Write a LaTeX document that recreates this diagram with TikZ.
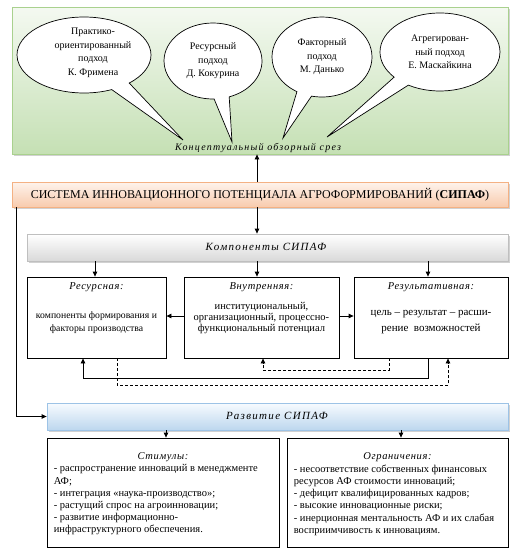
\documentclass[tikz,border=0pt]{standalone}
\usepackage{fontspec}
\setmainfont{Liberation Serif}
\usetikzlibrary{shapes.callouts,shadows,arrows.meta,calc}
\definecolor{grnF}{HTML}{C5E0B4}
\definecolor{grnT}{HTML}{F4F9F1}
\definecolor{grnD}{HTML}{A9D18E}
\definecolor{orF}{HTML}{F8CBAD}
\definecolor{orT}{HTML}{FEF3EC}
\definecolor{orD}{HTML}{F4B183}
\definecolor{gyF}{HTML}{D9D9D9}
\definecolor{gyD}{HTML}{BFBFBF}
\definecolor{blF}{HTML}{BDD7EE}
\definecolor{blT}{HTML}{F7FBFF}
\definecolor{blD}{HTML}{9DC3E6}
\newcommand{\spit}{\itshape\addfontfeatures{LetterSpace=12}}
\newcommand{\spitt}{\itshape\addfontfeatures{LetterSpace=6}}
\begin{document}
\begin{tikzpicture}[x=1pt,y=-1pt,
  shd/.style={drop shadow={fill=black!30,opacity=0.6,shadow xshift=1.5pt,shadow yshift=-2pt}},
  greenbox/.style={rectangle,draw=grnD,line width=0.8pt,top color=grnT,bottom color=grnF,shd},
  sysbox/.style={rectangle,draw=orD,line width=0.8pt,top color=orT,bottom color=orF,shd},
  graybox/.style={rectangle,draw=gyD,line width=0.8pt,top color=white,bottom color=gyF,shd},
  bluebox/.style={rectangle,draw=blD,line width=0.8pt,top color=blT,bottom color=blF,shd},
  plainbox/.style={rectangle,draw=black,line width=0.8pt,fill=white},
  bubble/.style={ellipse callout,draw=black,line width=0.7pt,fill=white,inner sep=0pt,
    callout pointer arc=18,font=\fontsize{10}{13.5}\selectfont,align=center},
  btext/.style={font=\fontsize{10}{13.5}\selectfont,align=center,inner sep=0pt},
  ttl/.style={font=\fontsize{10.5}{12}\selectfont\spitt,inner sep=0pt},
  body/.style={font=\fontsize{9.5}{12.5}\selectfont,align=center,inner sep=0pt},
  listtext/.style={font=\fontsize{10.5}{12.2}\selectfont,align=left,inner sep=0pt,anchor=north west},
  arr/.style={-{Triangle[length=5pt,width=4.5pt]},line width=0.8pt},
  darr/.style={arr,dashed,dash pattern=on 3pt off 2pt}
]
\useasboundingbox (0,0) rectangle (519,557);

% conceptual area
\node[greenbox,minimum width=496,minimum height=147] (cz) at (260,80.5) {};
\node[font=\fontsize{10}{12}\selectfont\spit,inner sep=0pt] (czt) at (258,148) {Концептуальный обзорный срез};

\node[bubble,minimum width=134,minimum height=76,callout absolute pointer={(183,140)}] (b1) at (84,55) {};
\node[btext] (b1t) at (93,53) {Практико-\\ориентированный\\подход\\К. Фримена};
\node[bubble,minimum width=98,minimum height=76,callout absolute pointer={(232,142)}] (b2) at (213,61)
  {Ресурсный\\подход\\Д. Кокурина};
\node[bubble,minimum width=100,minimum height=80,callout absolute pointer={(283,138)}] (b3) at (322,57)
  {Факторный\\подход\\М. Данько};
\node[bubble,minimum width=120,minimum height=78,callout absolute pointer={(327,137)}] (b4) at (440,52)
  {Агрегирован-\\ный подход\\Е. Маскайкина};

% system
\node[sysbox,minimum width=496,minimum height=25,font=\fontsize{12}{13}\selectfont] (sys) at (260,194.5)
  {СИСТЕМА ИННОВАЦИОННОГО ПОТЕНЦИАЛА АГРОФОРМИРОВАНИЙ (\textbf{СИПАФ})};
\draw[arr] ([xshift=-3pt]sys.north) -- ([xshift=-3pt]sys.north |- cz.south);

% components
\node[graybox,minimum width=481,minimum height=27] (comp) at (267.5,247.5) {};
\node[font=\fontsize{11}{13}\selectfont\spit,inner sep=0pt] (compt) at (266,247) {Компоненты СИПАФ};
\draw[arr] ([xshift=-3pt]sys.south) -- ([xshift=-3pt]sys.south |- comp.north);

\node[plainbox,minimum width=139,minimum height=81] (res) at (96.5,317.5) {};
\node[plainbox,minimum width=155,minimum height=81] (vn) at (261.5,317.5) {};
\node[plainbox,minimum width=154,minimum height=81] (rez) at (431,317.5) {};

\node[ttl] (rest) at ([yshift=-11pt]res.north) {Ресурсная:};
\node[ttl] (vnt) at ([yshift=-11pt]vn.north) {Внутренняя:};
\node[ttl] (rezt) at ([yshift=-11pt]rez.north) {Результативная:};

\node[body,font=\fontsize{9.7}{13}\selectfont] (resb) at ([yshift=-5pt]res.center) {компоненты формирования и\\факторы производства};
\node[body,font=\fontsize{10.5}{11.3}\selectfont] (vnb) at ([yshift=-0.5pt]vn.center) {институциональный,\\организационный, процессно-\\функциональный потенциал};
\node[body,font=\fontsize{11}{16}\selectfont] (rezb) at ([yshift=-4.5pt]rez.center) {цель – результат – расши-\\рение\ \ возможностей};

\draw[arr] ([xshift=-1.5pt]res.north |- comp.south) -- ([xshift=-1.5pt]res.north);
\draw[arr] ([xshift=-4.5pt]vn.north |- comp.south) -- ([xshift=-4.5pt]vn.north);
\draw[arr] ([xshift=-3pt]rez.north |- comp.south) -- ([xshift=-3pt]rez.north);

\draw[arr] ([yshift=1.5pt]vn.west) -- ([yshift=1.5pt]vn.west -| res.east);
\draw[arr] ([yshift=1.5pt]vn.east) -- ([yshift=1.5pt]vn.east -| rez.west);

\draw[arr] ([xshift=-3pt]rez.south) -- ++(0,20) -| ([xshift=-13.5pt]res.south);
\draw[darr] ([xshift=20.5pt]res.south) -- ++(0,27) -| ([xshift=17pt]rez.south);
\draw[darr] ([xshift=-42pt]rez.south) -- ++(0,12) -| ([xshift=1.5pt]vn.south);

% development
\node[bluebox,minimum width=461,minimum height=27] (raz) at (277.5,416.5) {};
\node[font=\fontsize{11}{13}\selectfont\spit,inner sep=0pt] (razt) at (277,416) {Развитие СИПАФ};
\draw[arr] ([xshift=5pt]sys.south west) |- (raz.west);

\node[plainbox,minimum width=232,minimum height=109] (stim) at (163,492.5) {};
\node[plainbox,minimum width=221,minimum height=109] (ogr) at (397.5,492.5) {};
\draw[arr] ([xshift=3pt]stim.north |- raz.south) -- ([xshift=3pt]stim.north);
\draw[arr] ([xshift=3.5pt]ogr.north |- raz.south) -- ([xshift=3.5pt]ogr.north);

\node[ttl] (stimt) at ([yshift=-20pt]stim.north) {Стимулы:};
\node[listtext] (stimb) at ([xshift=7pt,yshift=-27pt]stim.north west)
  {- распространение инноваций в менеджменте\\АФ;\\- интеграция «наука-производство»;\\- растущий спрос на агроинновации;\\- развитие информационно-\\инфраструктурного обеспечения.};
\node[ttl] (ogrt) at ([yshift=-20pt]ogr.north) {Ограничения:};
\node[listtext] (ogrb) at ([xshift=7pt,yshift=-27pt]ogr.north west)
  {- несоответствие собственных финансовых\\ресурсов АФ стоимости инноваций;\\- дефицит квалифицированных кадров;\\- высокие инновационные риски;\\- инерционная ментальность АФ и их слабая\\восприимчивость к инновациям.};
\end{tikzpicture}
\end{document}
